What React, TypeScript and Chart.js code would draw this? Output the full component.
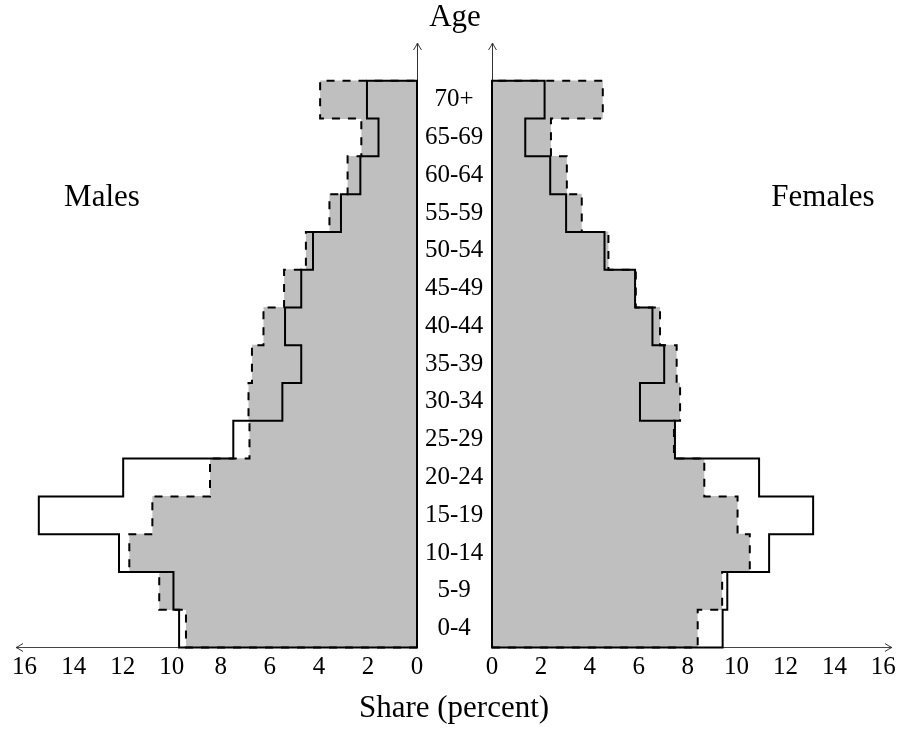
import React, { useEffect, useRef } from "react";
import { Chart, registerables } from "chart.js";

Chart.register(...registerables);

// Age groups, bottom to top
const ageGroups = ["0-4", "5-9", "10-14", "15-19", "20-24", "25-29", "30-34", "35-39", "40-44", "45-49", "50-54", "55-59", "60-64", "65-69", "70+"];

// Share (percent), bottom (0-4) to top (70+)
const malesSolid = [9.7, 9.93, 12.15, 15.42, 11.98, 7.49, 5.49, 4.72, 5.38, 4.72, 4.24, 3.1, 2.31, 1.57, 2.04];
const malesDashed = [9.42, 10.51, 11.73, 10.79, 8.44, 6.83, 6.87, 6.73, 6.26, 5.42, 4.53, 3.57, 2.83, 2.27, 3.95];
const femalesSolid = [9.43, 9.62, 11.33, 13.13, 10.92, 7.48, 6.05, 7.04, 6.56, 5.85, 4.6, 3.03, 2.38, 1.36, 2.15];
const femalesDashed = [8.41, 9.41, 10.54, 10.04, 8.68, 7.44, 7.69, 7.55, 6.87, 5.88, 4.76, 3.67, 3.06, 2.41, 4.53];

const shareTicks = [0, 2, 4, 6, 8, 10, 12, 14, 16];

const FONT = '"Liberation Serif", "Times New Roman", serif';

function outline(vals: number[]) {
  const pts: { x: number; y: number }[] = [{ x: 0, y: 0 }];
  vals.forEach((v, i) => {
    pts.push({ x: v, y: i });
    pts.push({ x: v, y: i + 1 });
  });
  pts.push({ x: 0, y: vals.length });
  pts.push({ x: 0, y: 0 });
  return pts;
}

function alignPx(p: number) {
  return Math.round(p - 0.5) + 0.5;
}

function makeArrowPlugin(side: "left" | "right") {
  return {
    id: "axisArrows",
    afterDraw(chart: any) {
      const { ctx, chartArea: a } = chart;
      ctx.save();
      ctx.strokeStyle = "#333";
      ctx.lineWidth = 1;
      const head = (x: number, y: number, dx: number, dy: number) => {
        const L = 7;
        const W = 4;
        const bx = x - dx * L;
        const by = y - dy * L;
        const px = -dy;
        const py = dx;
        ctx.beginPath();
        ctx.moveTo(bx + px * W, by + py * W);
        ctx.quadraticCurveTo(x - dx * L * 0.35 + px * W * 0.25, y - dy * L * 0.35 + py * W * 0.25, x, y);
        ctx.quadraticCurveTo(x - dx * L * 0.35 - px * W * 0.25, y - dy * L * 0.35 - py * W * 0.25, bx - px * W, by - py * W);
        ctx.stroke();
      };
      const by = alignPx(a.bottom);
      if (side === "left") {
        head(a.left, by, -1, 0);
        head(alignPx(a.right), a.top, 0, -1);
      } else {
        head(a.right, by, 1, 0);
        head(alignPx(a.left), a.top, 0, -1);
      }
      ctx.restore();
    },
  };
}

function makeConfig(solid: number[], dashed: number[], side: "left" | "right"): any {
  const isLeft = side === "left";
  return {
    type: "bar",
    data: {
      datasets: [
        {
          type: "line",
          data: outline(solid),
          borderColor: "#000",
          borderWidth: 2,
          pointRadius: 0,
          fill: false,
          tension: 0,
          stepped: "after",
          clip: false,
          order: 0,
          borderCapStyle: "square",
          borderJoinStyle: "miter",
        },
        {
          type: "line",
          data: outline(dashed),
          borderColor: "#000",
          borderWidth: 2,
          borderDash: [8, 8],
          pointRadius: 0,
          fill: false,
          tension: 0,
          stepped: "after",
          clip: false,
          order: 1,
          borderCapStyle: "butt",
          borderJoinStyle: "miter",
        },
        {
          type: "bar",
          data: dashed.map((v, i) => ({ x: v, y: i + 0.5 })),
          backgroundColor: "#bfbfbf",
          borderWidth: 0,
          barPercentage: 1.02,
          categoryPercentage: 1,
          order: 2,
        },
      ],
    },
    options: {
      responsive: false,
      animation: false,
      indexAxis: "y",
      layout: {
        padding: isLeft
          ? { left: 16, right: 0, top: 43, bottom: 46.5 }
          : { left: 38, right: 8, top: 43, bottom: 46.5 },
      },
      plugins: {
        legend: { display: false },
        tooltip: { enabled: false },
        title: { display: false },
      },
      scales: {
        x: {
          type: "linear",
          min: 0,
          max: 16.35,
          offset: false,
          reverse: isLeft,
          grid: { display: false, drawTicks: false },
          border: { display: true, color: "#444", width: 1 },
          ticks: {
            padding: 5,
            color: "#000",
            autoSkip: false,
            maxRotation: 0,
            font: { family: FONT, size: 25 },
          },
          afterBuildTicks: (s: any) => {
            s.ticks = shareTicks.map((v) => ({ value: v }));
          },
          afterFit: (s: any) => {
            s.height = 40;
          },
        },
        y: {
          type: "linear",
          position: isLeft ? "right" : "left",
          min: 0,
          max: 16,
          offset: false,
          grid: { display: false, drawTicks: false, offset: false },
          border: { display: true, color: "#333", width: 1 },
          ticks: isLeft
            ? {
                display: true,
                padding: 8,
                crossAlign: "center",
                color: "#000",
                autoSkip: false,
                font: { family: FONT, size: 25 },
                callback: (_v: any, i: number) => ageGroups[i],
              }
            : { display: false },
          afterBuildTicks: (s: any) => {
            s.ticks = ageGroups.map((_, i) => ({ value: i + 0.5 }));
          },
          afterFit: (s: any) => {
            s.width = isLeft ? 74 : 0;
          },
        },
      },
    },
    plugins: [makeArrowPlugin(side)],
  };
}

const labelStyle = (x: number, y: number): React.CSSProperties => ({
  position: "absolute",
  left: x,
  top: y,
  transform: "translate(-50%, -50%)",
  fontFamily: FONT,
  fontSize: 31,
  lineHeight: "31px",
  whiteSpace: "nowrap",
  color: "#000",
  zIndex: 2,
});

export default function App() {
  const leftRef = useRef<HTMLCanvasElement>(null);
  const rightRef = useRef<HTMLCanvasElement>(null);

  useEffect(() => {
    Chart.defaults.font.family = FONT;
    Chart.defaults.color = "#000";
    const left = new Chart(leftRef.current as HTMLCanvasElement, makeConfig(malesSolid, malesDashed, "left"));
    const right = new Chart(rightRef.current as HTMLCanvasElement, makeConfig(femalesSolid, femalesDashed, "right"));
    return () => {
      left.destroy();
      right.destroy();
    };
  }, []);

  return (
    <div style={{ position: "absolute", left: 0, top: 0, width: 901, height: 734, background: "#fff", overflow: "hidden" }}>
      <canvas
        ref={leftRef}
        width={491}
        height={734}
        style={{ position: "absolute", left: 0, top: 0, width: 491, height: 734, display: "block" }}
      />
      <canvas
        ref={rightRef}
        width={447}
        height={734}
        style={{ position: "absolute", left: 454, top: 0, width: 447, height: 734, display: "block" }}
      />
      <div style={labelStyle(455, 15)}>Age</div>
      <div style={labelStyle(102, 195)}>Males</div>
      <div style={labelStyle(823, 195)}>Females</div>
      <div style={labelStyle(454, 706)}>Share (percent)</div>
    </div>
  );
}
